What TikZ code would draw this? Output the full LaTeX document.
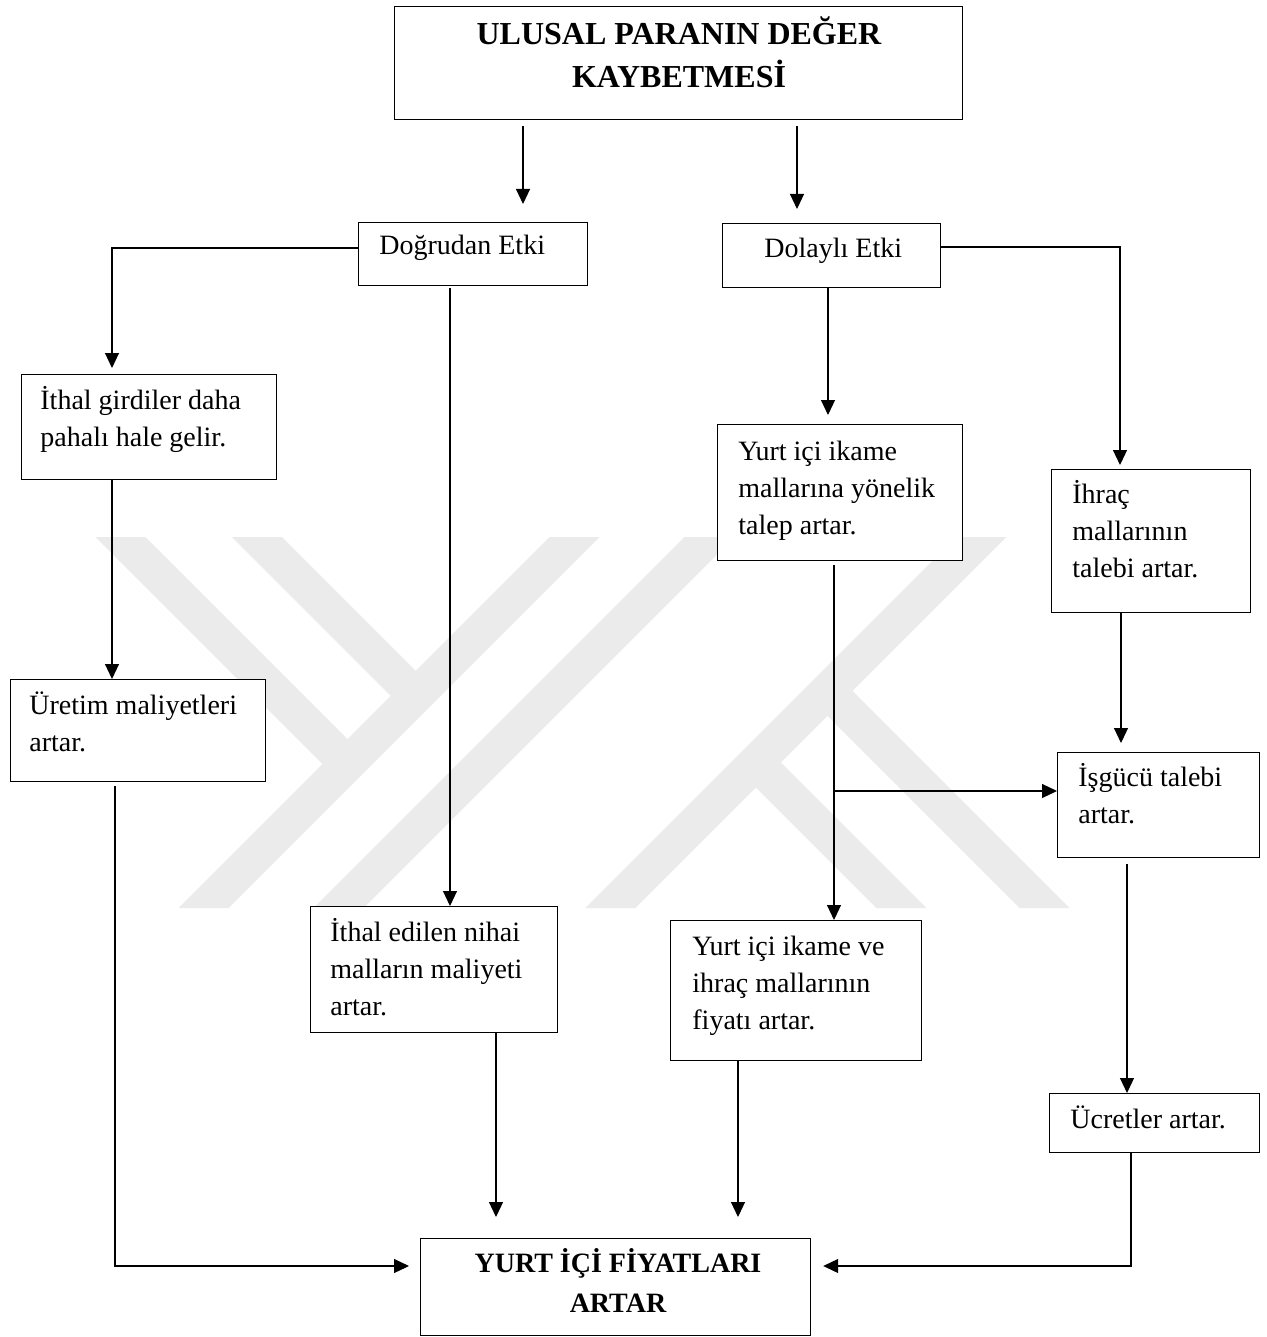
\documentclass[tikz,border=0pt]{standalone}
\usepackage{fontspec}
\setmainfont{Liberation Serif}
\usetikzlibrary{arrows.meta}
\tikzset{
    box/.style={draw, line width=0.6pt, fill=white, inner sep=0pt, anchor=north west},
    txt/.style={inner sep=0pt, anchor=base west, align=left, font=\fontsize{14pt}{18.5pt}\selectfont},
    head/.style={inner sep=0pt, anchor=base, align=center},
    link/.style={line width=0.55pt},
    arr/.style={link, -{Triangle[length=7.5pt, width=7pt]}},
    wm/.style={fill=black!8}
}

\begin{document}
\begin{tikzpicture}[x=0.5pt, y=-0.5pt]
            \useasboundingbox (0, 0) rectangle (1267, 1337);
            \fill[white] (0, 0) rectangle (1267, 1337);

            \fill[wm] (95.3, 537) -- (145.3, 537) -- (347.5, 739.2) -- (322.5, 764.2) -- cycle;
            \fill[wm] (232, 537) -- (282, 537) -- (415.9, 670.9) -- (390.9, 695.9) -- cycle;
            \fill[wm] (549.7, 537) -- (599.7, 537) -- (228.7, 908) -- (178.7, 908) -- cycle;
            \fill[wm] (684.7, 537) -- (734.7, 537) -- (363.7, 908) -- (313.7, 908) -- cycle;
            \fill[wm] (956.3, 537) -- (1006.3, 537) -- (635.3, 908) -- (585.3, 908) -- cycle;
            \fill[wm] (780.8, 762.5) -- (926.3, 908) -- (876.3, 908) -- (755.8, 787.5) -- cycle;
            \fill[wm] (852.5, 690.8) -- (1069.7, 908) -- (1019.7, 908) -- (827.5, 715.8) -- cycle;

            \node[box, minimum width=284pt, minimum height=56.5pt] (top) at (394, 6) {};
            \node[box, minimum width=114.5pt, minimum height=31.5pt] (direct) at (358, 222) {};
            \node[box, minimum width=109pt, minimum height=32pt] (indirect) at (722, 223) {};
            \node[box, minimum width=127.5pt, minimum height=52.5pt] (inputs) at (21, 374) {};
            \node[box, minimum width=127.5pt, minimum height=51pt] (costs) at (10, 679) {};
            \node[box, minimum width=123.5pt, minimum height=63pt] (finals) at (310, 906) {};
            \node[box, minimum width=122.5pt, minimum height=68pt] (subst) at (717, 424) {};
            \node[box, minimum width=99.5pt, minimum height=71.5pt] (exports) at (1051, 469) {};
            \node[box, minimum width=101pt, minimum height=52.5pt] (labour) at (1057, 752) {};
            \node[box, minimum width=125.5pt, minimum height=70pt] (prices) at (670, 920) {};
            \node[box, minimum width=105pt, minimum height=29.5pt] (wages) at (1049, 1093) {};
            \node[box, minimum width=195pt, minimum height=48.5pt] (result) at (420, 1238) {};

            \node[head, font=\fontsize{16pt}{21.5pt}\selectfont\bfseries] (topText) at (679, 88) {ULUSAL PARANIN DEĞER\\KAYBETMESİ};
            \node[txt] (directText) at (379, 255) {Doğrudan Etki};
            \node[txt] (indirectText) at (764, 257) {Dolaylı Etki};
            \node[txt] (inputsText) at (40, 446) {İthal girdiler daha\\pahalı hale gelir.};
            \node[txt] (costsText) at (29, 751) {Üretim maliyetleri\\artar.};
            \node[txt] (substText) at (738, 534) {Yurt içi ikame\\mallarına yönelik\\talep artar.};
            \node[txt] (exportsText) at (1072, 577) {İhraç\\mallarının\\talebi artar.};
            \node[txt] (labourText) at (1078, 823) {İşgücü talebi\\artar.};
            \node[txt] (finalsText) at (330, 1015) {İthal edilen nihai\\malların maliyeti\\artar.};
            \node[txt] (pricesText) at (692, 1029) {Yurt içi ikame ve\\ihraç mallarının\\fiyatı artar.};
            \node[txt] (wagesText) at (1070, 1128) {Ücretler artar.};
            \node[head, font=\fontsize{14pt}{20pt}\selectfont\bfseries] (resultText) at (618, 1312) {YURT İÇİ FİYATLARI\\ARTAR};

            \coordinate (xA) at (523, 0);
            \coordinate (xB) at (797, 0);
            \coordinate (xC) at (112, 248);
            \coordinate (xD) at (450, 0);
            \coordinate (xE) at (115, 1266);
            \coordinate (xF) at (496, 0);
            \coordinate (xG) at (828, 0);
            \coordinate (xH) at (1120, 247);
            \coordinate (xI) at (834, 791);
            \coordinate (xJ) at (1121, 0);
            \coordinate (xK) at (1127, 0);
            \coordinate (xL) at (1131, 1266);
            \coordinate (xM) at (738, 0);

            \draw[arr, shorten <=3pt, shorten >=9pt] (xA |- top.south) -- (xA |- direct.north);
            \draw[arr, shorten <=3pt, shorten >=7pt] (xB |- top.south) -- (xB |- indirect.north);
            \draw[arr, shorten >=3pt] (direct.west |- xC) -| (xC |- inputs.north);
            \draw[arr, shorten <=1pt] (xD |- direct.south) -- (xD |- finals.north);
            \draw[arr] (xC |- inputs.south) -- (xC |- costs.north);
            \draw[arr, shorten <=2pt, shorten >=5.5pt] (xE |- costs.south) |- (result.west |- xE);
            \draw[arr, shorten >=10.5pt] (xF |- finals.south) -- (xF |- result.north);
            \draw[arr, shorten >=4.5pt] (xG |- indirect.south) -- (xG |- subst.north);
            \draw[arr, shorten >=2pt] (indirect.east |- xH) -| (xH |- exports.north);
            \draw[arr, shorten <=2pt] (xI |- subst.south) -- (xI |- prices.north);
            \draw[arr] (xI) -- (xI -| labour.west);
            \draw[arr, shorten >=4.5pt] (xJ |- exports.south) -- (xJ |- labour.north);
            \draw[arr, shorten <=3pt] (xK |- labour.south) -- (xK |- wages.north);
            \draw[arr, shorten >=6pt] (xL |- wages.south) |- (result.east |- xL);
            \draw[arr, shorten >=10.5pt] (xM |- prices.south) -- (xM |- result.north);
\end{tikzpicture}
\end{document}
